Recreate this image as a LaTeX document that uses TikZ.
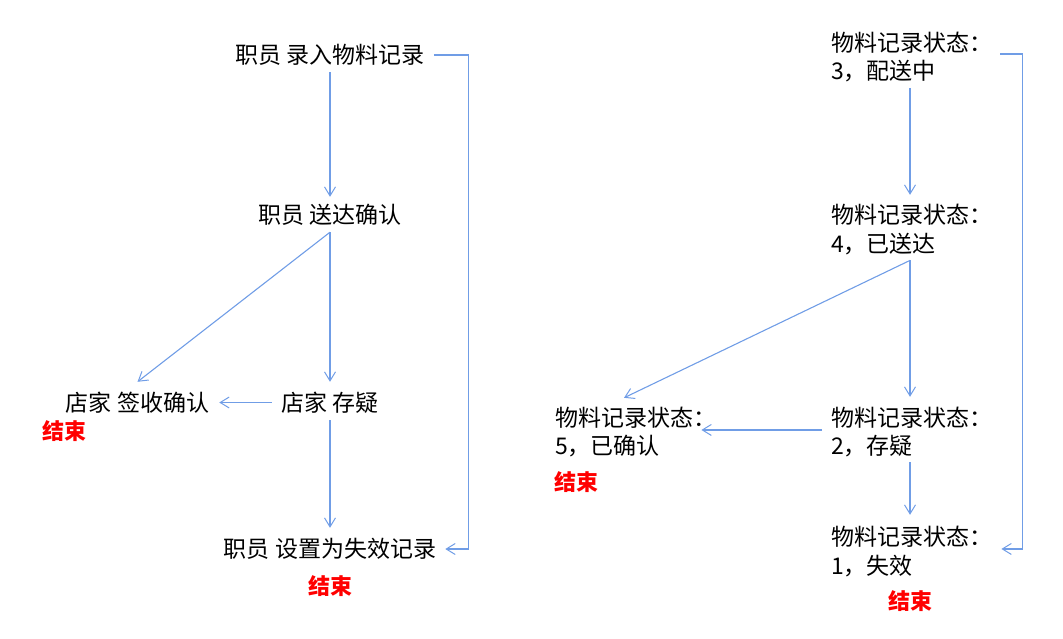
\documentclass[tikz,border=0pt]{standalone}
\usepackage{fontspec}
\setmainfont{Noto Sans CJK SC}
\usetikzlibrary{arrows.meta}
\definecolor{flow}{RGB}{112,157,230}
\definecolor{endred}{RGB}{255,0,0}
\begin{document}
\begin{tikzpicture}[x=1pt,y=-1pt,
  txt/.style={inner sep=0pt,font=\fontsize{23pt}{28.5pt}\selectfont,
              text height=18pt,text depth=1pt},
  % two-line labels: base anchor sits on the second line
  state/.style={inner sep=0pt,font=\fontsize{23pt}{28.5pt}\selectfont,
              align=left,anchor=base west,text height=46.5pt,text depth=1pt},
  endmark/.style={inner sep=0pt,font=\fontsize{22pt}{26pt}\selectfont\bfseries,
              text=endred,text height=18pt,text depth=1pt},
  arr/.style={draw=flow,line width=1.1pt,
              -{Straight Barb[length=9pt,width=11pt,line width=1pt]}}]
\useasboundingbox (0,0) rectangle (1063,638);

% ---- staff / shop actions ----
\node[txt] (r1) at (330,55) {职员 录入物料记录};
\node[txt] (r2) at (330,215) {职员 送达确认};
\node[txt] (r3) at (137.5,402.5) {店家 签收确认};
\node[txt] (r4) at (330,402.5) {店家 存疑};
\node[txt] (r5) at (330,549) {职员 设置为失效记录};
\node[endmark] (e1) at (64,431) {结束};
\node[endmark] (e2) at (330,586) {结束};

\draw[arr] ([yshift=-7.5pt]r1.south) -- ([yshift=8.5pt]r2.north);
\draw[arr] ([yshift=-7.5pt]r2.south) -- ([yshift=11pt]r3.north);
\draw[arr] ([yshift=-7.5pt]r2.south) -- ([yshift=11pt]r4.north);
\draw[arr] ([xshift=-9.5pt]r4.west) -- ([xshift=10pt]r3.east);
\draw[arr] ([yshift=-8pt]r4.south) -- ([yshift=11.5pt]r5.north);
\draw[arr] ([xshift=9pt]r1.east) -- ++(35,0) |- ([xshift=9pt]r5.east);

% ---- record states ----
\node[state] (s3) at (831,79.7) {物料记录状态：\\3，配送中};
\node[state] (s4) at (831,252.2) {物料记录状态：\\4，已送达};
\node[state] (s5) at (555,454.7) {物料记录状态：\\5，已确认};
\node[state] (s2) at (831,454.7) {物料记录状态：\\2，存疑};
\node[state] (s1) at (831,574.2) {物料记录状态：\\1，失效};
\node[endmark] (e3) at (576.5,482) {结束};
\node[endmark] (e4) at (910,601) {结束};

\draw[arr] ([xshift=79pt,yshift=-7pt]s3.south west) -- ([xshift=79pt,yshift=10.7pt]s4.north west);
\draw[arr] ([xshift=79pt,yshift=-7pt]s4.south west) -- ([xshift=69pt,yshift=10.2pt]s5.north west);
\draw[arr] ([xshift=79pt,yshift=-7pt]s4.south west) -- ([xshift=79pt,yshift=11.2pt]s2.north west);
\draw[arr] ([xshift=-9pt,yshift=2pt]s2.west) -- ([xshift=-15pt,yshift=2pt]s5.east);
\draw[arr] ([xshift=79pt,yshift=-6.3pt]s2.south west) -- ([xshift=79pt,yshift=12.7pt]s1.north west);
\draw[arr] ([xshift=8pt,yshift=3pt]s3.east) -- ++(22,0) |- ([xshift=9pt,yshift=2.5pt]s1.east);
\end{tikzpicture}
\end{document}
